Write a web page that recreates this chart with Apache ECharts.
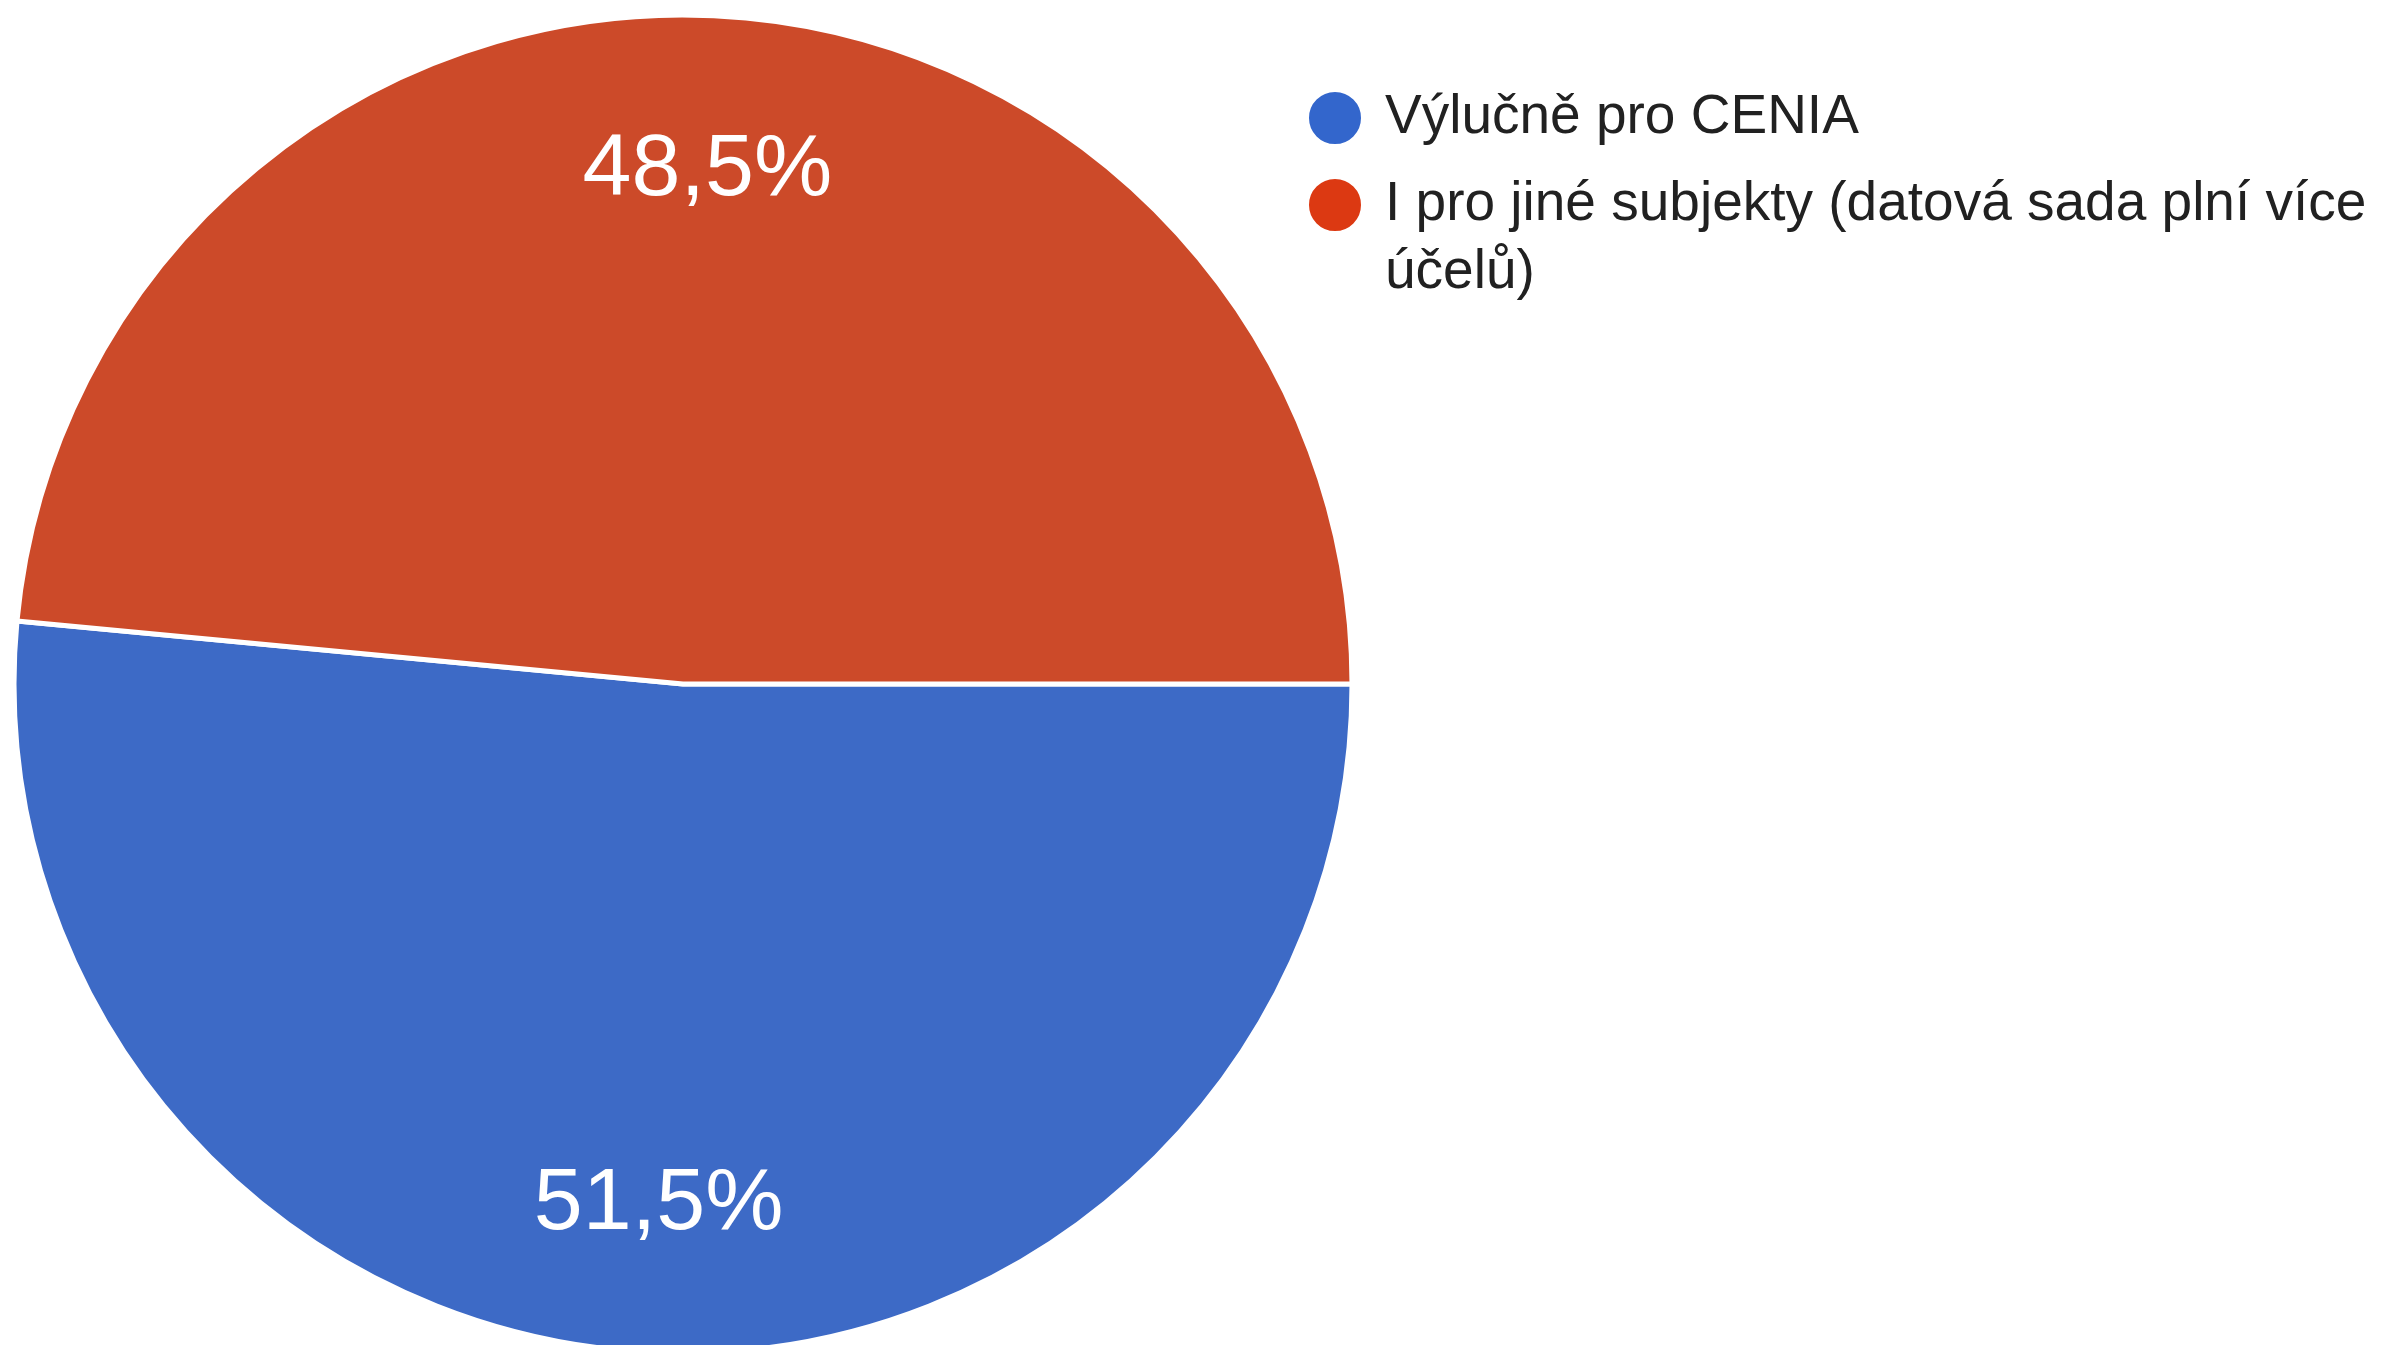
<!DOCTYPE html>
<html>
<head>
<meta charset="utf-8">
<style>
  html, body { margin: 0; padding: 0; background: #fff; }
  #chart { width: 2396px; height: 1345px; }
</style>
<script src="https://cdn.jsdelivr.net/npm/echarts@6/dist/echarts.min.js"></script>
</head>
<body>
<div id="chart"></div>
<script>
const kategorie = ['Výlučně pro CENIA', 'I pro jiné subjekty (datová sada plní více účelů)'];
const hodnoty = [51.5, 48.5];
const barvy = ['#3d6ac6', '#cc4a29'];
const barvyLegendy = ['#3366cc', '#dc3912'];

const pisMo = '"Liberation Sans", Arial, sans-serif';
const velikostLegendy = 55;

let chart = echarts.init(document.getElementById('chart'));

// zalomeni textu legendy po slovech podle namerene sirky
const ctx = document.createElement('canvas').getContext('2d');
ctx.font = velikostLegendy + 'px ' + pisMo;
function zalom(text, maxSirka) {
    let radky = [];
    let radek = '';
    text.split(' ').forEach(slovo => {
        const zkus = radek ? radek + ' ' + slovo : slovo;
        if (radek && ctx.measureText(zkus).width > maxSirka) {
            radky.push(radek);
            radek = slovo;
        } else {
            radek = zkus;
        }
    });
    radky.push(radek);
    return radky.join('\n');
}

const data = kategorie.map((nazev, i) => ({
    name: nazev,
    value: hodnoty[i],
    itemStyle: { color: barvy[i] }
}));

// druha polozka se zalomi; prazdny prvni radek zarovna ikonu s prvnim radkem textu
const legenda = (i, top, odsazeni) => ({
    show: true,
    orient: 'vertical',
    left: 1307,
    top: top,
    padding: 0,
    icon: 'circle',
    itemWidth: 54,
    itemHeight: 54,
    selectedMode: false,
    formatter: name => (odsazeni ? '\n' : '') + zalom(name, 1010),
    data: [{
        name: kategorie[i],
        itemStyle: { color: barvyLegendy[i] }
    }],
    textStyle: {
        fontFamily: pisMo,
        fontSize: velikostLegendy,
        lineHeight: 68,
        color: '#212121',
        padding: [0, 0, 0, 18]
    }
});

const option = {
    animation: false,
    backgroundColor: '#ffffff',
    legend: [legenda(0, 84, false), legenda(1, 103, true)],
    series: [
        {
            type: 'pie',
            center: [683, 684],
            radius: [0, 669],
            startAngle: 0,
            clockwise: true,
            silent: true,
            label: { show: false },
            labelLine: { show: false },
            itemStyle: { borderColor: '#ffffff', borderWidth: 5 },
            data: data
        },
        {
            // pruhledna vrstva jen pro popisky (posun popisku dal od stredu)
            type: 'pie',
            center: [683, 688],
            radius: [360, 669],
            startAngle: 0,
            clockwise: true,
            silent: true,
            itemStyle: { color: 'rgba(0,0,0,0)', borderWidth: 0 },
            labelLine: { show: false },
            label: {
                show: true,
                position: 'inside',
                color: '#ffffff',
                fontFamily: pisMo,
                fontSize: 88,
                formatter: p => p.percent.toFixed(1).replace('.', ',') + '%'
            },
            data: kategorie.map((nazev, i) => ({ name: nazev, value: hodnoty[i] }))
        }
    ]
};

chart.setOption(option);
</script>
</body>
</html>
